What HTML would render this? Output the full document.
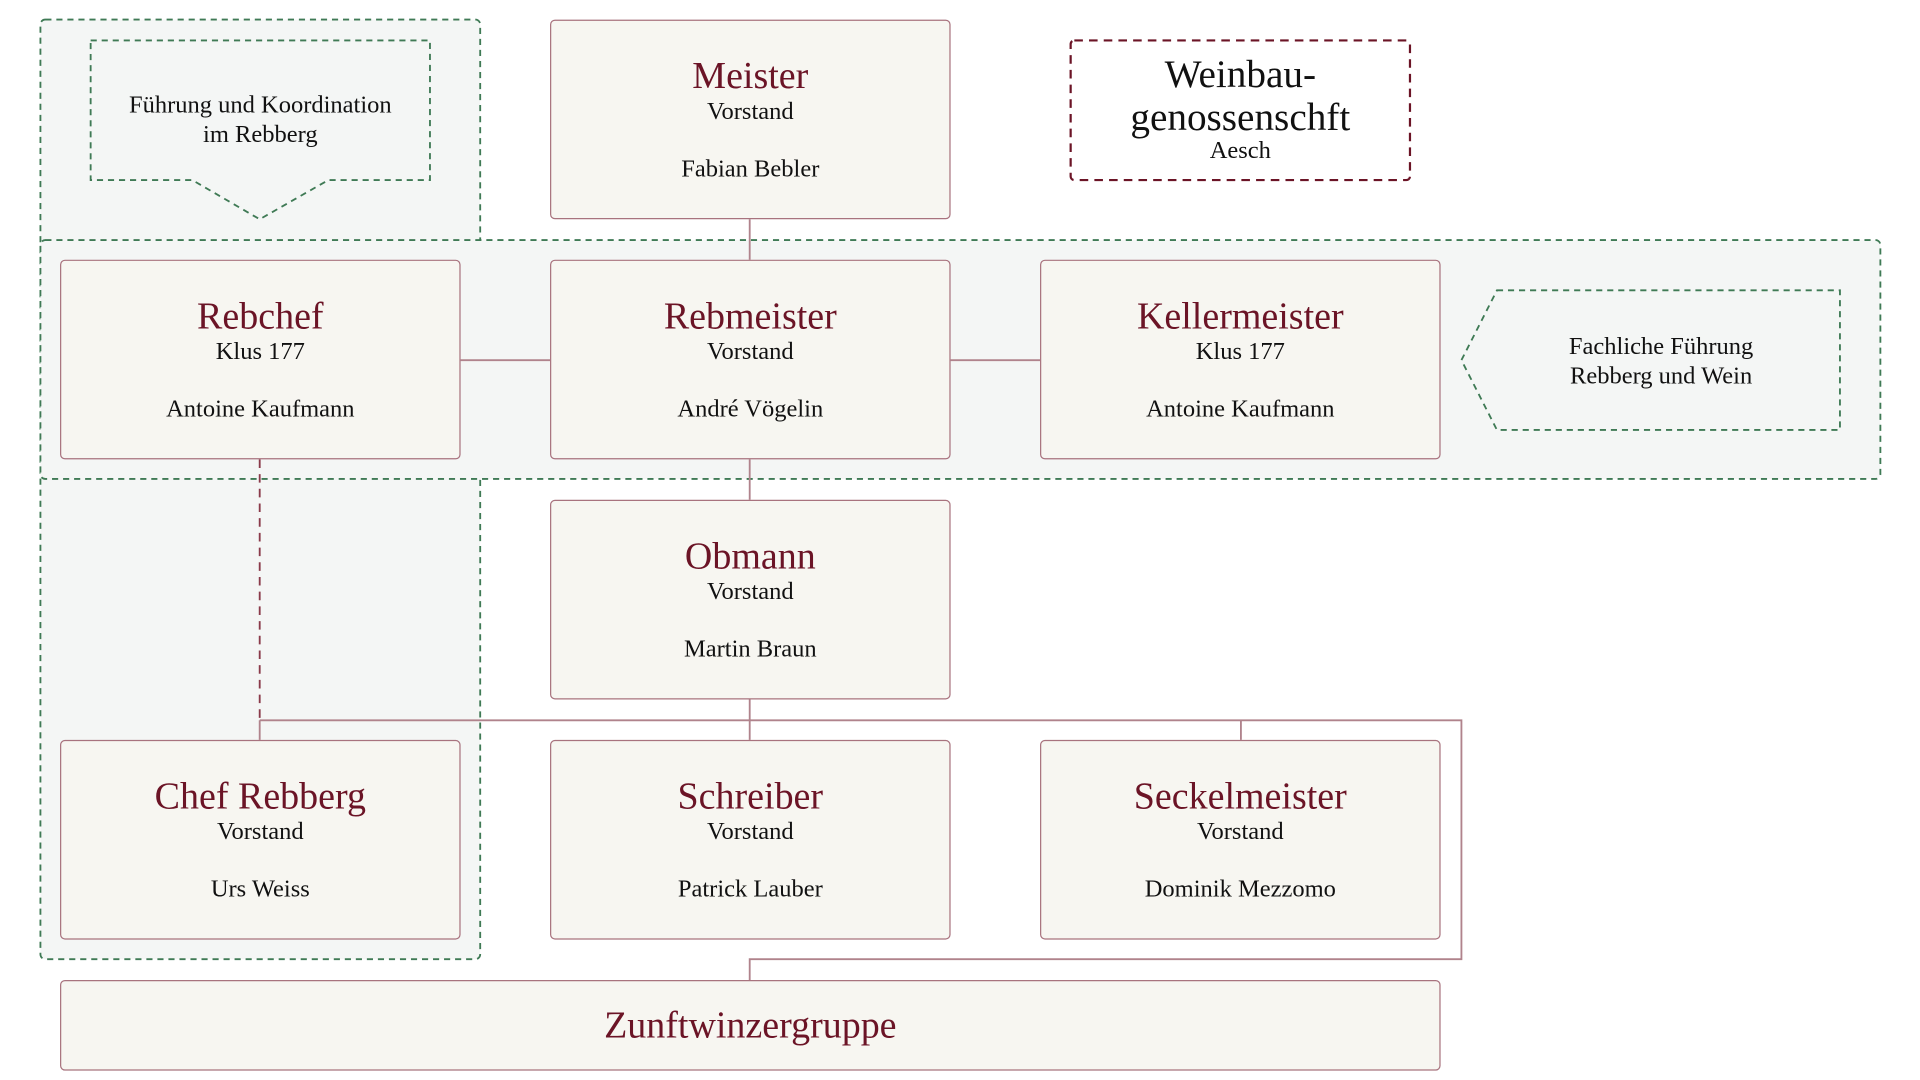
<!DOCTYPE html>
<html><head><meta charset="utf-8"><style>
html,body{margin:0;padding:0;background:#fff;width:1920px;height:1080px;overflow:hidden}
#w{position:absolute;left:0;top:0;width:1560px;height:878px;transform:scale(1.225);transform-origin:0 0;font-family:"Liberation Serif",serif}
.b{position:absolute;width:325px;height:161px;background:#f7f6f1;border:1px solid #a8737e;border-radius:4px;text-align:center;color:#111}
.t{position:absolute;left:0;right:0;top:28px;font-size:31px;color:#6b1426;line-height:34px}
.s{position:absolute;left:0;right:0;top:63px;font-size:20px;line-height:22px}
.n{position:absolute;left:0;right:0;top:110px;font-size:20px;line-height:22px}
.lbl{position:absolute;text-align:center;font-size:20px;line-height:24px;color:#111}
</style></head><body><div id="w">
<svg width="1560" height="878" style="position:absolute;left:0;top:0">
<rect x="33" y="16" width="359" height="767" rx="4" fill="#f4f6f5" stroke="#3f7a55" stroke-width="1.5" stroke-dasharray="5,4"/>
<rect x="33" y="196" width="1502" height="195" rx="4" fill="#f4f6f5" stroke="#3f7a55" stroke-width="1.5" stroke-dasharray="5,4"/>
<path d="M74 33H351V147H268L212 179L157 147H74Z" fill="#f4f6f5" stroke="#3f7a55" stroke-width="1.5" stroke-dasharray="5,4"/>
<path d="M1222 237H1502V351H1222L1193 294Z" fill="#f4f6f5" stroke="#3f7a55" stroke-width="1.5" stroke-dasharray="5,4"/>
<rect x="874" y="33" width="277" height="114" rx="3" fill="#fff" stroke="#6b1426" stroke-width="1.8" stroke-dasharray="7,5"/>
<g stroke="#b0838c" stroke-width="1.5" fill="none">
<path d="M612 179V212M376 294H449M776 294H849M612 375V408M612 571V604M212 588H1193V783H612V800M1013 588V604M212 588V604"/>
<path d="M212 375V588" stroke-dasharray="7,5" stroke="#8a3a4a"/>
</g>
</svg>
<div class="lbl" style="left:74px;top:74px;width:277px">Führung und Koordination<br>im Rebberg</div>
<div class="lbl" style="left:1222px;top:271px;width:268px">Fachliche Führung<br>Rebberg und Wein</div>
<div style="position:absolute;left:874px;top:43px;width:277px;text-align:center;font-size:32px;line-height:35px;color:#111">Weinbau-<br>genossenschft</div>
<div style="position:absolute;left:874px;top:112px;width:277px;text-align:center;font-size:20px;line-height:22px;color:#111">Aesch</div>
<div class="b" style="left:449px;top:16px"><div class="t">Meister</div><div class="s">Vorstand</div><div class="n">Fabian Bebler</div></div>
<div class="b" style="left:49px;top:212px"><div class="t">Rebchef</div><div class="s">Klus 177</div><div class="n">Antoine Kaufmann</div></div>
<div class="b" style="left:449px;top:212px"><div class="t">Rebmeister</div><div class="s">Vorstand</div><div class="n">André Vögelin</div></div>
<div class="b" style="left:849px;top:212px"><div class="t">Kellermeister</div><div class="s">Klus 177</div><div class="n">Antoine Kaufmann</div></div>
<div class="b" style="left:449px;top:408px"><div class="t">Obmann</div><div class="s">Vorstand</div><div class="n">Martin Braun</div></div>
<div class="b" style="left:49px;top:604px"><div class="t">Chef Rebberg</div><div class="s">Vorstand</div><div class="n">Urs Weiss</div></div>
<div class="b" style="left:449px;top:604px"><div class="t">Schreiber</div><div class="s">Vorstand</div><div class="n">Patrick Lauber</div></div>
<div class="b" style="left:849px;top:604px"><div class="t">Seckelmeister</div><div class="s">Vorstand</div><div class="n">Dominik Mezzomo</div></div>
<div class="b" style="left:49px;top:800px;width:1125px;height:72px"><div class="t" style="top:19px">Zunftwinzergruppe</div></div>
</div></body></html>
